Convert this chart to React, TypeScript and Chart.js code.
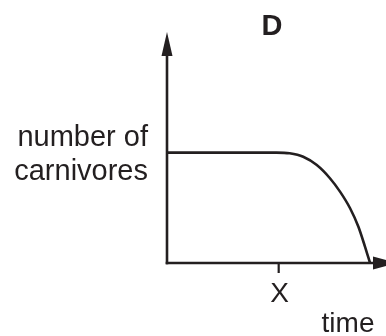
import React, { useEffect, useRef } from "react";
import { Chart, registerables } from "chart.js";

Chart.register(...registerables);

// Data (time units on x, carnivore count units on y)
const timeValues = [0, 2, 4, 5.0, 5.6, 6.22, 6.84, 7.44, 7.9, 8.36, 8.74, 9.04, 9.27];
const carnivoreValues = [4.78, 4.78, 4.78, 4.78, 4.75, 4.6, 4.24, 3.67, 3.09, 2.37, 1.57, 0.71, 0];
const xTickValues = [5.1];
const xTickLabels = ["X"];
const yAxisLabelLines = ["number of", "carnivores"];
const xAxisLabel = "time";
const panelTitle = "D";

const INK = "#231f20";
const FONT = "'Liberation Sans', Arial, sans-serif";

const annotatePlugin = {
  id: "annotate",
  afterDraw(chart: any) {
    const { ctx, chartArea, scales } = chart;
    const xs = scales.x;
    const ys = scales.y;
    const x0 = xs.getPixelForValue(0);
    const y0 = ys.getPixelForValue(0);
    ctx.save();
    ctx.strokeStyle = INK;
    ctx.fillStyle = INK;
    ctx.lineWidth = 2.6;
    ctx.lineCap = "butt";
    // y axis
    ctx.beginPath();
    ctx.moveTo(x0, y0 + 1.3);
    ctx.lineTo(x0, chartArea.top + 20);
    ctx.stroke();
    // y arrow head
    ctx.beginPath();
    ctx.moveTo(x0, chartArea.top);
    ctx.lineTo(x0 - 5.5, chartArea.top + 24);
    ctx.lineTo(x0 + 5.5, chartArea.top + 24);
    ctx.closePath();
    ctx.fill();
    // x axis
    ctx.beginPath();
    ctx.moveTo(x0 - 1.3, y0);
    ctx.lineTo(chartArea.right - 10, y0);
    ctx.stroke();
    // x arrow head
    const base = chartArea.right - 13;
    ctx.beginPath();
    ctx.moveTo(base + 24, y0);
    ctx.lineTo(base, y0 - 6.5);
    ctx.lineTo(base, y0 + 6.5);
    ctx.closePath();
    ctx.fill();
    // x ticks
    ctx.lineWidth = 2.2;
    xTickValues.forEach((v, i) => {
      const px = xs.getPixelForValue(v);
      ctx.beginPath();
      ctx.moveTo(px, y0);
      ctx.lineTo(px, y0 + 10);
      ctx.stroke();
      ctx.font = `28px ${FONT}`;
      ctx.textAlign = "center";
      ctx.textBaseline = "alphabetic";
      ctx.fillText(xTickLabels[i], px + 1, y0 + 39);
    });
    // axis labels
    ctx.font = `29px ${FONT}`;
    ctx.textAlign = "right";
    ctx.fillText(yAxisLabelLines[0], x0 - 19, 146);
    ctx.fillText(yAxisLabelLines[1], x0 - 19, 180);
    ctx.font = `28px ${FONT}`;
    ctx.textAlign = "center";
    ctx.fillText(xAxisLabel, 348, 332);
    ctx.font = `bold 29px ${FONT}`;
    ctx.fillText(panelTitle, 272, 35);
    ctx.restore();
  },
};

export default function App() {
  const ref = useRef<HTMLCanvasElement | null>(null);
  useEffect(() => {
    if (!ref.current) return;
    const chart = new Chart(ref.current, {
      type: "line",
      data: {
        datasets: [
          {
            data: timeValues.map((t, i) => ({ x: t, y: carnivoreValues[i] })),
            borderColor: INK,
            borderWidth: 2.6,
            pointRadius: 0,
            cubicInterpolationMode: "monotone",
            fill: false,
            clip: false as any,
          },
        ],
      },
      options: {
        animation: false,
        responsive: false,
        layout: { padding: { left: 167, top: 32, right: 0, bottom: 73 } },
        plugins: { legend: { display: false }, tooltip: { enabled: false }, title: { display: false } },
        scales: {
          x: { type: "linear", min: 0, max: 10, display: false },
          y: { type: "linear", min: 0, max: 10, display: false },
        },
      },
      plugins: [annotatePlugin],
    });
    return () => chart.destroy();
  }, []);
  return (
    <div style={{ position: "absolute", left: 0, top: 0, width: 386, height: 336, background: "#fff" }}>
      <canvas ref={ref} width={386} height={336} />
    </div>
  );
}
